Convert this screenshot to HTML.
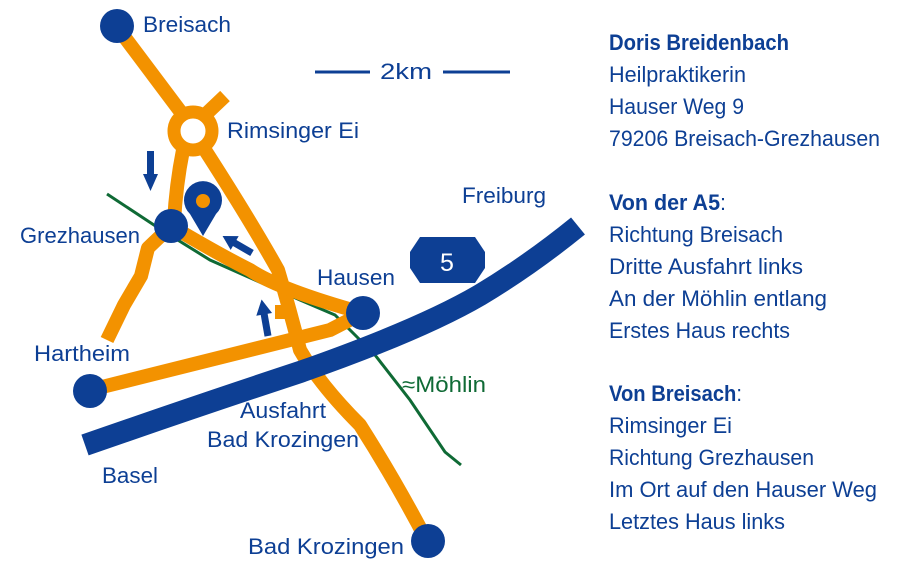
<!DOCTYPE html>
<html><head><meta charset="utf-8"><style>
html,body{margin:0;padding:0;background:#fff;}
svg{display:block;}
text{font-family:"Liberation Sans",sans-serif;fill:#0d3f94;}
</style></head><body>
<svg width="899" height="571" viewBox="0 0 899 571" xmlns="http://www.w3.org/2000/svg">
<polyline points="107,194 160,229 210,260 255,280 300,300 335,315 375,355 410,400 445,452 461,465" fill="none" stroke="#0f6a35" stroke-width="3"/>
<g fill="none" stroke="#f39200" stroke-width="14" stroke-linejoin="round">
<line x1="117" y1="27" x2="183" y2="115"/>
<line x1="205" y1="115" x2="225" y2="96"/>
<path d="M183,150 Q176,185 174,222"/>
<path d="M205,150 Q250,220 278,270 Q290,310 300,350 Q320,385 360,425 Q395,480 427,541"/>
<path d="M171,226 Q220,255 250,270 Q280,290 363,313"/>
<path d="M363,313 L330,330 L90,390"/>
<path d="M171,226 L148,248 L141,276 L124,305 L107,340"/>
<line x1="275" y1="312" x2="295" y2="312"/>
<circle cx="193" cy="131" r="19" stroke-width="13"/>
</g>
<path d="M85,445 Q200,405 300,372 Q420,330 480,295 Q530,265 578,226" fill="none" stroke="#0d3f94" stroke-width="22"/>
<g fill="#0d3f94">
<circle cx="117" cy="26" r="17"/>
<circle cx="171" cy="226" r="17"/>
<circle cx="363" cy="313" r="17"/>
<circle cx="90" cy="391" r="17"/>
<circle cx="428" cy="541" r="17"/>
<path d="M203,236 L190,214 A19,19 0 1 1 216,214 Z"/>
<rect x="147" y="151" width="7" height="24"/><polygon points="143,174 158,174 150.5,191"/>
<g transform="translate(252,253) rotate(-150)"><rect x="0" y="-3.5" width="22" height="7"/><polygon points="20,-8 20,8 34,0"/></g>
<g transform="translate(268,336) rotate(-100)"><rect x="0" y="-3.5" width="24" height="7"/><polygon points="22,-8 22,8 37,0"/></g>
<polygon points="420,237 475,237 485,252 485,268 475,283 420,283 410,268 410,252"/>
</g>
<circle cx="203" cy="201" r="7" fill="#f39200"/>
<text x="447" y="271" font-size="25" text-anchor="middle" style="fill:#fff">5</text>
<line x1="315" y1="72" x2="370" y2="72" stroke="#0d3f94" stroke-width="3"/>
<line x1="443" y1="72" x2="510" y2="72" stroke="#0d3f94" stroke-width="3"/>
<g font-size="22">
<text x="380" y="79" textLength="52" lengthAdjust="spacingAndGlyphs">2km</text>
<text x="143" y="32" textLength="88" lengthAdjust="spacingAndGlyphs">Breisach</text>
<text x="227" y="138" textLength="132" lengthAdjust="spacingAndGlyphs">Rimsinger Ei</text>
<text x="20" y="243" textLength="120" lengthAdjust="spacingAndGlyphs">Grezhausen</text>
<text x="462" y="203" textLength="84" lengthAdjust="spacingAndGlyphs">Freiburg</text>
<text x="317" y="285" textLength="78" lengthAdjust="spacingAndGlyphs">Hausen</text>
<text x="34" y="361" textLength="96" lengthAdjust="spacingAndGlyphs">Hartheim</text>
<text x="402" y="392" textLength="84" lengthAdjust="spacingAndGlyphs" style="fill:#0f6a35">≈Möhlin</text>
<text x="240" y="418" textLength="86" lengthAdjust="spacingAndGlyphs">Ausfahrt</text>
<text x="207" y="447" textLength="152" lengthAdjust="spacingAndGlyphs">Bad Krozingen</text>
<text x="102" y="483" textLength="56" lengthAdjust="spacingAndGlyphs">Basel</text>
<text x="248" y="554" textLength="156" lengthAdjust="spacingAndGlyphs">Bad Krozingen</text>
</g>
<g font-size="22">
<text x="609" y="50" font-weight="bold" textLength="180" lengthAdjust="spacingAndGlyphs">Doris Breidenbach</text>
<text x="609" y="82" textLength="137" lengthAdjust="spacingAndGlyphs">Heilpraktikerin</text>
<text x="609" y="114" textLength="135" lengthAdjust="spacingAndGlyphs">Hauser Weg 9</text>
<text x="609" y="146" textLength="271" lengthAdjust="spacingAndGlyphs">79206 Breisach-Grezhausen</text>
<text x="609" y="210" textLength="117" lengthAdjust="spacingAndGlyphs"><tspan font-weight="bold">Von der A5</tspan>:</text>
<text x="609" y="242" textLength="174" lengthAdjust="spacingAndGlyphs">Richtung Breisach</text>
<text x="609" y="274" textLength="194" lengthAdjust="spacingAndGlyphs">Dritte Ausfahrt links</text>
<text x="609" y="306" textLength="218" lengthAdjust="spacingAndGlyphs">An der Möhlin entlang</text>
<text x="609" y="338" textLength="181" lengthAdjust="spacingAndGlyphs">Erstes Haus rechts</text>
<text x="609" y="401" textLength="133" lengthAdjust="spacingAndGlyphs"><tspan font-weight="bold">Von Breisach</tspan>:</text>
<text x="609" y="433" textLength="123" lengthAdjust="spacingAndGlyphs">Rimsinger Ei</text>
<text x="609" y="465" textLength="205" lengthAdjust="spacingAndGlyphs">Richtung Grezhausen</text>
<text x="609" y="497" textLength="268" lengthAdjust="spacingAndGlyphs">Im Ort auf den Hauser Weg</text>
<text x="609" y="529" textLength="176" lengthAdjust="spacingAndGlyphs">Letztes Haus links</text>
</g>
</svg>
</body></html>
